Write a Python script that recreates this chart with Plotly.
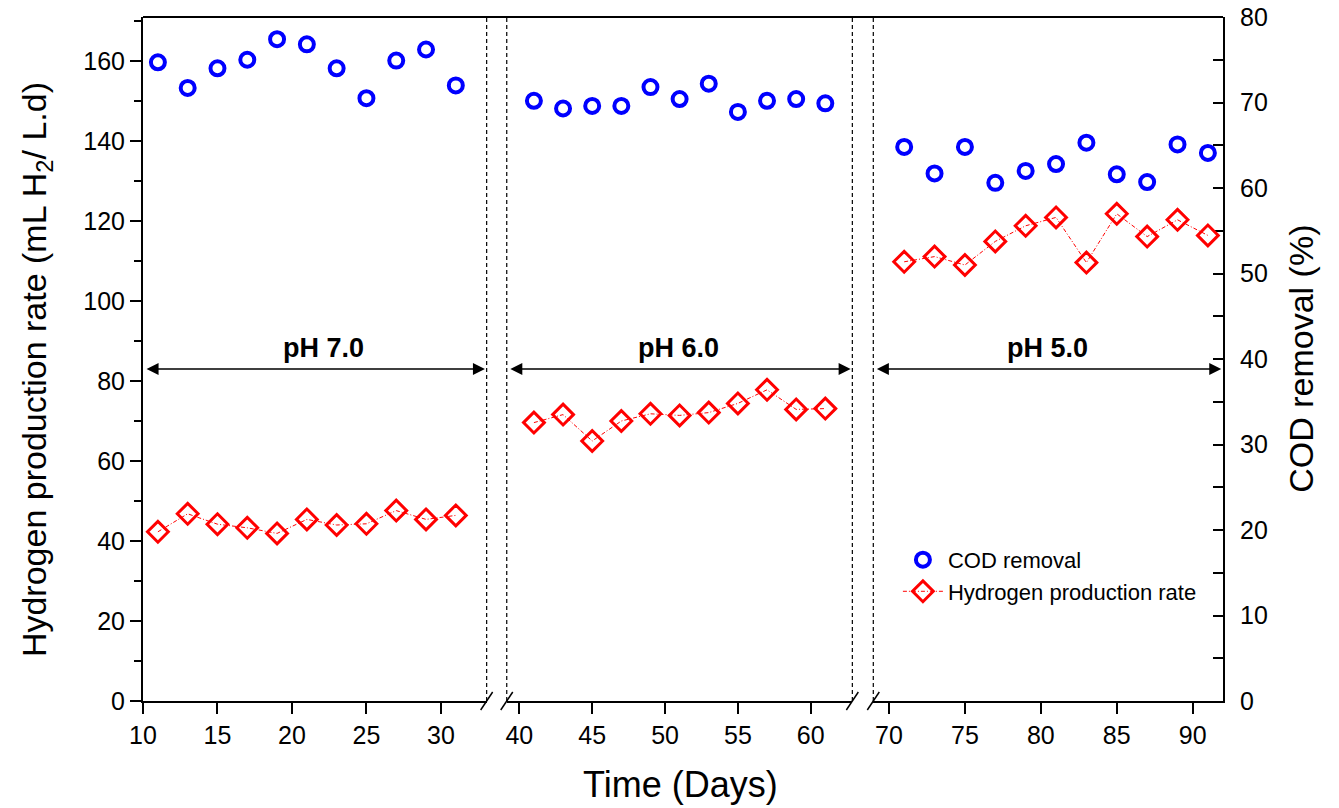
import plotly.graph_objects as go

# Sampling days for the three pH phases
days_ph7 = [11, 13, 15, 17, 19, 21, 23, 25, 27, 29, 31]
days_ph6 = [41, 43, 45, 47, 49, 51, 53, 55, 57, 59, 61]
days_ph5 = [71, 73, 75, 77, 79, 81, 83, 85, 87, 89, 91]

# COD removal (%)
cod_ph7 = [74.7, 71.7, 74.0, 75.0, 77.4, 76.8, 74.0, 70.5, 74.9, 76.2, 72.0]
cod_ph6 = [70.2, 69.3, 69.6, 69.6, 71.8, 70.4, 72.2, 68.9, 70.2, 70.4, 69.9]
cod_ph5 = [64.8, 61.7, 64.8, 60.6, 62.0, 62.8, 65.3, 61.6, 60.7, 65.1, 64.1]

# Hydrogen production rate (mL H2 / L.d)
h2_ph7 = [42.3, 46.8, 44.2, 43.3, 41.9, 45.4, 44.0, 44.3, 47.6, 45.4, 46.4]
h2_ph6 = [69.6, 71.6, 65.0, 70.0, 71.8, 71.4, 72.1, 74.4, 77.8, 72.9, 73.1]
h2_ph5 = [109.8, 111.1, 109.0, 114.9, 118.8, 120.9, 109.6, 121.8, 116.1, 120.3, 116.4]

phase_labels = ["pH 7.0", "pH 6.0", "pH 5.0"]

FONT = "Arial, Liberation Sans, sans-serif"
BLUE = "#0000FF"
RED = "#FF0000"

# x-axis segments of the broken axis: (axis id, domain, range, ticks)
segments = [
    ("x", [0.0, 0.3182], [10.0, 33.07], [10, 15, 20, 25, 30]),
    ("x2", [0.3368, 0.6568], [39.135, 62.855], [40, 45, 50, 55, 60]),
    ("x3", [0.6762, 1.0], [68.966, 91.995], [70, 75, 80, 85, 90]),
]
days = [days_ph7, days_ph6, days_ph5]
cods = [cod_ph7, cod_ph6, cod_ph5]
h2s = [h2_ph7, h2_ph6, h2_ph5]

fig = go.Figure()

for i, (xid, dom, rng, tv) in enumerate(segments):
    fig.add_trace(go.Scatter(
        x=days[i], y=cods[i], xaxis=xid, yaxis="y2",
        mode="markers", name="COD removal", legendgroup="cod",
        showlegend=(i == 0),
        marker=dict(symbol="circle-open", size=14, color=BLUE,
                    line=dict(width=4, color=BLUE)),
    ))

for i, (xid, dom, rng, tv) in enumerate(segments):
    fig.add_trace(go.Scatter(
        x=days[i], y=h2s[i], xaxis=xid, yaxis="y",
        mode="lines+markers", name="Hydrogen production rate", legendgroup="h2",
        showlegend=(i == 0),
        line=dict(color=RED, width=1, dash="4px,2px,1px,2px"),
        marker=dict(symbol="diamond-open", size=16, color=RED,
                    line=dict(width=3, color=RED)),
    ))

axis_common = dict(
    showgrid=False, zeroline=False, showline=True, linecolor="black",
    linewidth=2, ticks="outside", ticklen=11, tickwidth=2, tickcolor="black",
    tickfont=dict(family=FONT, size=25, color="black"), automargin=False,
)

layout_axes = {}
for i, (xid, dom, rng, tv) in enumerate(segments):
    key = "xaxis" if xid == "x" else "xaxis" + xid[1:]
    layout_axes[key] = dict(axis_common, domain=dom, range=rng,
                            tickvals=tv, anchor="y")

fig.update_layout(**layout_axes)

fig.update_layout(
    width=1339, height=808,
    margin=dict(l=143, r=116, t=17, b=107, autoexpand=False),
    paper_bgcolor="white", plot_bgcolor="white",
    font=dict(family=FONT, color="black"),
    yaxis=dict(axis_common, range=[0, 171], tickvals=list(range(0, 161, 20)),
               ticklen=11, anchor="x",
               minor=dict(tickvals=list(range(10, 171, 20)), ticks="outside",
                          ticklen=7, tickwidth=2, tickcolor="black")),
    yaxis2=dict(axis_common, range=[0, 80], tickvals=list(range(0, 81, 10)),
                overlaying="y", side="right", anchor="x3", ticks="inside",
                ticklen=10, ticklabelstandoff=10,
                minor=dict(tickvals=list(range(5, 80, 10)), ticks="inside",
                           ticklen=10, tickwidth=2, tickcolor="black")),
    legend=dict(x=0.699, y=0.237, xanchor="left", yanchor="top",
                bgcolor="rgba(0,0,0,0)", borderwidth=0,
                font=dict(family=FONT, size=22, color="black"),
                tracegroupgap=0, itemwidth=40),
    showlegend=True,
)

shapes = []
# continuous top frame line
shapes.append(dict(type="line", xref="paper", yref="paper", x0=0, x1=1,
                   y0=1, y1=1, line=dict(color="black", width=2)))
# dashed boundaries and break marks at the inner segment edges
for edge in [segments[0][1][1], segments[1][1][0], segments[1][1][1], segments[2][1][0]]:
    shapes.append(dict(type="line", xref="paper", yref="paper", x0=edge, x1=edge,
                       y0=0, y1=1, line=dict(color="black", width=1.2, dash="4px,3px")))
    shapes.append(dict(type="line", xref="paper", yref="paper",
                       xsizemode="pixel", xanchor=edge, x0=-6, x1=6,
                       ysizemode="pixel", yanchor=0, y0=-9, y1=9,
                       line=dict(color="black", width=1.5)))
fig.update_layout(shapes=shapes)

annotations = []
label_pos = [0.526, 0.496, 0.497]
for i, (xid, dom, rng, tv) in enumerate(segments):
    # double-headed arrow spanning each phase
    annotations.append(dict(
        xref=xid + " domain", yref="y", axref=xid + " domain", ayref="y",
        x=0.995, y=83, ax=0.006, ay=83, text="", showarrow=True,
        arrowhead=2, startarrowhead=2, arrowside="end+start",
        arrowsize=1.5, startarrowsize=1.5, arrowwidth=1.6, arrowcolor="black",
    ))
    annotations.append(dict(
        xref=xid + " domain", yref="y", x=label_pos[i], y=88.3,
        text="<b>" + phase_labels[i] + "</b>", showarrow=False,
        xanchor="center", yanchor="middle",
        font=dict(family=FONT, size=27, color="black"),
    ))

annotations.append(dict(
    xref="paper", yref="paper", x=0.498, y=-0.122, text="Time (Days)",
    showarrow=False, xanchor="center", yanchor="middle",
    font=dict(family=FONT, size=36, color="black"),
))
annotations.append(dict(
    xref="paper", yref="paper", x=-0.098, y=0.484,
    text="Hydrogen production rate (mL H<sub>2</sub>/ L.d)", textangle=-90,
    showarrow=False, xanchor="center", yanchor="middle",
    font=dict(family=FONT, size=34, color="black"),
))
annotations.append(dict(
    xref="paper", yref="paper", x=1.072, y=0.5,
    text="COD removal (%)", textangle=-90,
    showarrow=False, xanchor="center", yanchor="middle",
    font=dict(family=FONT, size=34, color="black"),
))
fig.update_layout(annotations=annotations)

fig.write_html("out.html")
